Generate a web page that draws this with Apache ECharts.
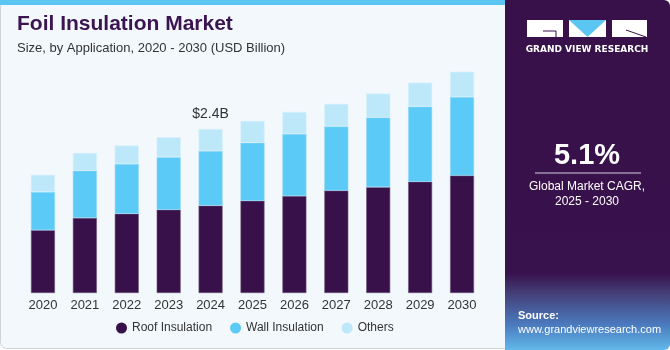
<!DOCTYPE html>
<html>
<head>
<meta charset="UTF-8">
<script src="https://cdn.jsdelivr.net/npm/echarts@6/dist/echarts.min.js"></script>
<style>
  html, body { margin: 0; padding: 0; background: #ffffff; }
  #main { width: 670px; height: 350px; }
</style>
</head>
<body>
<div id="main"></div>
<script type="text/javascript">
  var years = ['2020', '2021', '2022', '2023', '2024', '2025', '2026', '2027', '2028', '2029', '2030'];
  var roofInsulation = [0.92, 1.10, 1.16, 1.22, 1.28, 1.35, 1.42, 1.50, 1.55, 1.63, 1.72];
  var wallInsulation = [0.56, 0.69, 0.73, 0.77, 0.80, 0.85, 0.91, 0.94, 1.02, 1.10, 1.15];
  var others = [0.25, 0.26, 0.27, 0.29, 0.32, 0.32, 0.32, 0.33, 0.35, 0.35, 0.37];
  var highlightIndex = 4;
  var highlightText = '$2.4B';

  var chart = echarts.init(document.getElementById('main'));

  // label only on the 2024 bar
  var othersData = others.map(function (v, i) {
    if (i !== highlightIndex) return v;
    return {
      value: v,
      label: {
        show: true, position: 'top', distance: 8,
        formatter: highlightText,
        color: '#333', fontSize: 14, fontFamily: 'Liberation Sans'
      }
    };
  });

  var option = {
    animation: false,
    textStyle: { fontFamily: 'Liberation Sans' },
    grid: { left: 22, right: 187, top: 54, height: 239 },
    xAxis: {
      type: 'category',
      data: years,
      axisLine: { show: false },
      axisTick: { show: false },
      axisLabel: { color: '#333', fontSize: 13, margin: 6 }
    },
    yAxis: {
      type: 'value', min: 0, max: 3.5, show: false
    },
    legend: {
      left: 111, top: 317,
      icon: 'circle', itemWidth: 11, itemHeight: 11, itemGap: 18,
      itemStyle: { borderWidth: 0 },
      textStyle: { color: '#333', fontSize: 12 },
      data: ['Roof Insulation', 'Wall Insulation', 'Others']
    },
    series: [
      {
        name: 'Roof Insulation', type: 'bar', stack: 'total', barWidth: 24,
        itemStyle: { color: '#38104a', borderColor: '#6e5a80', borderWidth: 0.6 },
        data: roofInsulation
      },
      {
        name: 'Wall Insulation', type: 'bar', stack: 'total', barWidth: 24,
        itemStyle: { color: '#5bcaf6', borderColor: '#8fd9f8', borderWidth: 0.6 },
        data: wallInsulation
      },
      {
        name: 'Others', type: 'bar', stack: 'total', barWidth: 24,
        itemStyle: { color: '#bde8f9', borderColor: '#d4f0fb', borderWidth: 0.6 },
        data: othersData
      }
    ],
    graphic: [
      // left panel background
      { type: 'rect', z: -10, shape: { x: 0.5, y: 0.5, width: 520, height: 348, r: 6 },
        style: { fill: '#f3f8fc', stroke: '#cfd3d8', lineWidth: 1 } },
      { type: 'rect', z: -9, shape: { x: 0, y: 0, width: 512, height: 5 },
        style: { fill: '#5bc6f2' } },
      // right panel
      { type: 'rect', z: -5, shape: { x: 505, y: 0, width: 165, height: 350, r: [0, 6, 6, 0] },
        style: {
          fill: new echarts.graphic.LinearGradient(0, 0, 0, 1, [
            { offset: 0, color: '#38104a' },
            { offset: 0.78, color: '#38124c' },
            { offset: 0.84, color: '#444078' },
            { offset: 0.93, color: '#4b7cc0' },
            { offset: 1, color: '#62b8ea' }
          ])
        } },
      // logo
      { type: 'rect', shape: { x: 527, y: 20, width: 36, height: 17 }, style: { fill: '#ffffff' } },
      { type: 'line', shape: { x1: 543, y1: 31, x2: 556, y2: 31 }, style: { stroke: '#38104a', lineWidth: 1 } },
      { type: 'line', shape: { x1: 556, y1: 31, x2: 556, y2: 37 }, style: { stroke: '#38104a', lineWidth: 1 } },
      { type: 'rect', shape: { x: 569, y: 20, width: 37, height: 17 }, style: { fill: '#ffffff' } },
      { type: 'polygon', shape: { points: [[569, 20], [606, 20], [587.5, 37]] }, style: { fill: '#5bc6f2' } },
      { type: 'rect', shape: { x: 612, y: 20, width: 35, height: 17 }, style: { fill: '#ffffff' } },
      { type: 'line', shape: { x1: 626, y1: 30, x2: 646, y2: 37 }, style: { stroke: '#38104a', lineWidth: 1 } },
      { type: 'text', style: { x: 587, y: 50, text: 'GRAND VIEW RESEARCH', fill: '#ffffff',
        font: 'bold 9px "DejaVu Sans"', align: 'center', verticalAlign: 'middle' } },
      // CAGR
      { type: 'text', style: { x: 587, y: 156, text: '5.1%', fill: '#ffffff',
        font: 'bold 29px "Liberation Sans"', align: 'center', verticalAlign: 'middle' } },
      { type: 'line', shape: { x1: 535, y1: 173, x2: 641, y2: 173 }, style: { stroke: '#d8d0e0', lineWidth: 1 } },
      { type: 'text', style: { x: 587, y: 187, text: 'Global Market CAGR,', fill: '#ffffff',
        font: '12px "Liberation Sans"', align: 'center', verticalAlign: 'middle' } },
      { type: 'text', style: { x: 587, y: 202, text: '2025 - 2030', fill: '#ffffff',
        font: '12px "Liberation Sans"', align: 'center', verticalAlign: 'middle' } },
      // source
      { type: 'text', style: { x: 518, y: 316, text: 'Source:', fill: '#ffffff',
        font: 'bold 11px "Liberation Sans"', verticalAlign: 'middle' } },
      { type: 'text', style: { x: 518, y: 330, text: 'www.grandviewresearch.com', fill: '#ffffff',
        font: '11px "Liberation Sans"', verticalAlign: 'middle' } },
      // titles
      { type: 'text', style: { x: 17, y: 24, text: 'Foil Insulation Market', fill: '#3a1550',
        font: 'bold 21px "Liberation Sans"', verticalAlign: 'middle' } },
      { type: 'text', style: { x: 17, y: 48, text: 'Size, by Application, 2020 - 2030 (USD Billion)', fill: '#333333',
        font: '13px "Liberation Sans"', verticalAlign: 'middle' } }
    ]
  };
  chart.setOption(option);
</script>
</body>
</html>
